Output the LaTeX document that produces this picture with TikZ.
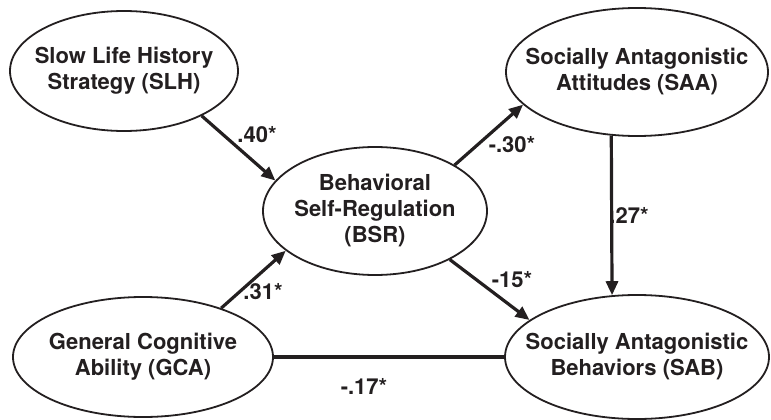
\documentclass[tikz,border=0pt]{standalone}
\usepackage{fontspec}
\setmainfont{TeX Gyre Heros}
\usetikzlibrary{shapes.geometric,arrows.meta}
\definecolor{ink}{RGB}{35,31,32}
\begin{document}
\begin{tikzpicture}[x=1pt,y=-1pt,
  ell/.style={ellipse,draw=ink,line width=1.8pt,inner sep=0pt},
  txt/.style={align=center,font=\fontsize{22}{26}\selectfont\bfseries,text=ink},
  arr/.style={line width=3.2pt,draw=ink,-{Triangle[length=14pt,width=12pt]}},
  plain/.style={line width=3.2pt,draw=ink},
  coef/.style={font=\fontsize{22}{26}\selectfont\bfseries,text=ink,inner sep=0pt}]
\useasboundingbox (0,0) rectangle (771,420);

\node[ell,minimum width=228pt,minimum height=120pt,
  label={[txt]center:{Slow Life History\\Strategy (SLH)}}] (SLH) at (124,71) {};
\node[ell,minimum width=224pt,minimum height=128pt,
  label={[txt]center:{Behavioral\\Self-Regulation\\(BSR)}}] (BSR) at (375,211) {};
\node[ell,minimum width=262pt,minimum height=128pt,
  label={[txt]center:{Socially Antagonistic\\Attitudes (SAA)}}] (SAA) at (637,72) {};
\node[ell,minimum width=260pt,minimum height=120pt,
  label={[txt]center:{General Cognitive\\Ability (GCA)}}] (GCA) at (143,357) {};
\node[ell,minimum width=264pt,minimum height=124pt,
  label={[txt]center:{Socially Antagonistic\\Behaviors (SAB)}}] (SAB) at (637,357) {};

\draw[arr] (SLH.-30) -- (BSR.163);
\draw[arr] (GCA.32) -- (BSR.204);
\draw[arr] (BSR.30.5) -- (SAA.196.4);
\draw[arr] (BSR.-33) -- (SAB.161.6);
\draw[arr] (SAA.248.3) -- (SAB.112.4);
\draw[plain] (GCA.east) -- (SAB.west);

\node[coef] (c1) at (257,135) {.40*};
\node[coef] (c2) at (263,292) {.31*};
\node[coef] (c3) at (512,145) {-.30*};
\node[coef] (c4) at (512,280) {-15*};
\node[coef] (c5) at (629,215) {.27*};
\node[coef] (c6) at (364,386) {-.17*};
\end{tikzpicture}
\end{document}
